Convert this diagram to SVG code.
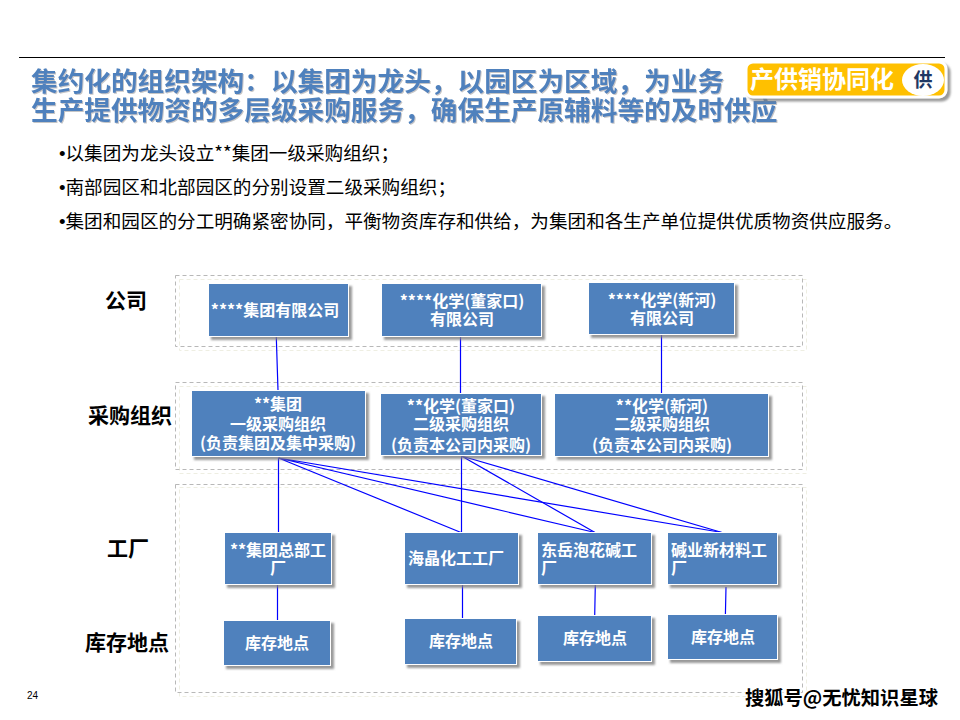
<svg xmlns="http://www.w3.org/2000/svg" width="960" height="720" viewBox="0 0 960 720">
<style>
text{font-family:"Noto Sans CJK SC","Liberation Sans",sans-serif}
.title{font-size:26.67px;font-weight:700;fill:#4f81bd;filter:url(#ts)}
.bul{font-size:18.6px;fill:#000}
.dot{font-family:"Liberation Sans",sans-serif}
.row{font-size:21px;font-weight:700;fill:#000;text-anchor:middle}
.n{fill:#4f81bd;stroke:#fff;stroke-width:1;filter:url(#sh)}
.t{font-size:16px;font-weight:700;fill:#fff;text-anchor:middle}
.l{font-size:16px;font-weight:700;fill:#fff}
.g1{fill:none;stroke:#b8b8b8;stroke-width:1;stroke-dasharray:4 3}
.g2{fill:none;stroke:#eeeee2;stroke-width:1;stroke-dasharray:4 3}
.c{stroke:#0000ff;stroke-width:1.2;fill:none}
</style>
<defs>
<filter id="sh" x="-10%" y="-10%" width="125%" height="130%"><feDropShadow dx="3" dy="3" stdDeviation="1.2" flood-color="#808080" flood-opacity="0.8"/></filter>
<filter id="ts" x="-2%" y="-10%" width="104%" height="125%"><feDropShadow dx="1" dy="1" stdDeviation="0.5" flood-color="#a0a0a0" flood-opacity="0.6"/></filter>
</defs>
<rect width="960" height="720" fill="#fff"/>
<line x1="19" y1="57.5" x2="945" y2="57.5" stroke="#000" stroke-width="1"/>
<text class="title" x="31" y="91">集约化的组织架构&#xFF1A;以集团为龙头&#xFF0C;以园区为区域&#xFF0C;为业务</text>
<text class="title" x="31" y="120">生产提供物资的多层级采购服务&#xFF0C;确保生产原辅料等的及时供应</text>
<g id="badge">
<rect x="746" y="62" width="200" height="35" rx="7" fill="#ffc000" stroke="#fff" stroke-width="3" filter="url(#sh)"/>
<text x="750" y="88" font-size="24" font-weight="700" fill="#fff">产供销协同化</text>
<ellipse cx="923" cy="80" rx="21" ry="16" fill="#fff"/>
<text x="923" y="87" font-size="19" font-weight="700" fill="#1f3864" text-anchor="middle">供</text>
</g>
<text class="bul" x="59" y="160"><tspan class="dot">•</tspan>以集团为龙头设立**集团一级采购组织&#xFF1B;</text>
<text class="bul" x="59" y="194"><tspan class="dot">•</tspan>南部园区和北部园区的分别设置二级采购组织&#xFF1B;</text>
<text class="bul" x="59" y="228"><tspan class="dot">•</tspan>集团和园区的分工明确紧密协同&#xFF0C;平衡物资库存和供给&#xFF0C;为集团和各生产单位提供优质物资供应服务。</text>
<g id="frames">
<rect class="g2" x="179.500" y="279.500" width="627" height="71"/>
<rect class="g1" x="175.500" y="275.500" width="627" height="71"/>
<rect class="g2" x="179.500" y="386.500" width="627" height="87"/>
<rect class="g1" x="175.500" y="382.500" width="627" height="87"/>
<rect class="g2" x="179.500" y="487.500" width="627" height="209"/>
<rect class="g1" x="175.500" y="484.500" width="627" height="208"/>
</g>
<text class="row" x="126" y="308">公司</text>
<text class="row" x="130" y="423">采购组织</text>
<text class="row" x="128" y="556">工厂</text>
<text class="row" x="127" y="650">库存地点</text>
<g id="connectors">
<path class="c" d="M276.300 337L278 390M460.500 337V394M661.500 335V394"/>
<path class="c" d="M278.500 458V533M278.500 458L461 532.500M278.500 458L595 532.500M278.500 458L722 532.500"/>
<path class="c" d="M461.500 456V533M461.500 456L595 532.500M461.500 456L722 532.500"/>
<path class="c" d="M277.500 585V621M462.500 585V619M595.300 585L594.700 616M726 587L725.400 615"/>
</g>
<g id="a1"><rect class="n" x="208.500" y="283.500" width="140" height="53"/><text class="t" x="275" y="316">****集团有限公司</text></g>
<g id="a2"><rect class="n" x="381.500" y="283.500" width="160" height="53"/><text class="t" x="462" y="307">****化学(董家口)</text><text class="t" x="462" y="325">有限公司</text></g>
<g id="a3"><rect class="n" x="588.500" y="282.500" width="146" height="52"/><text class="t" x="662" y="306">****化学(新河)</text><text class="t" x="662" y="324">有限公司</text></g>
<g id="b1"><rect class="n" x="191.500" y="390.500" width="174" height="66"/><text class="t" x="278" y="410">**集团</text><text class="t" x="278" y="430">一级采购组织</text><text class="t" x="278" y="449">(负责集团及集中采购)</text></g>
<g id="b2"><rect class="n" x="380.500" y="393.500" width="161" height="62"/><text class="t" x="461" y="412">**化学(董家口)</text><text class="t" x="461" y="430">二级采购组织</text><text class="t" x="461" y="451">(负责本公司内采购)</text></g>
<g id="b3"><rect class="n" x="554.500" y="393.500" width="214" height="63"/><text class="t" x="662" y="412">**化学(新河)</text><text class="t" x="662" y="430">二级采购组织</text><text class="t" x="662" y="451">(负责本公司内采购)</text></g>
<g id="c1"><rect class="n" x="224.500" y="532.500" width="107" height="52"/><text class="t" x="278" y="556">**集团总部工</text><text class="t" x="278" y="574">厂</text></g>
<g id="c2"><rect class="n" x="404.500" y="532.500" width="114" height="52"/><text class="l" x="408" y="564">海晶化工工厂</text></g>
<g id="c3"><rect class="n" x="537.500" y="532.500" width="114" height="52"/><text class="l" x="541" y="556">东岳泡花碱工</text><text class="l" x="541" y="574">厂</text></g>
<g id="c4"><rect class="n" x="667.500" y="532.500" width="110" height="52"/><text class="l" x="671" y="556">碱业新材料工</text><text class="l" x="671" y="574">厂</text></g>
<g id="d1"><rect class="n" x="223.500" y="620.500" width="107" height="45"/><text class="t" x="277" y="649">库存地点</text></g>
<g id="d2"><rect class="n" x="404.500" y="618.500" width="112" height="46"/><text class="t" x="461" y="647">库存地点</text></g>
<g id="d3"><rect class="n" x="537.500" y="615.500" width="114" height="46"/><text class="t" x="595" y="644">库存地点</text></g>
<g id="d4"><rect class="n" x="667.500" y="614.500" width="110" height="45"/><text class="t" x="723" y="643">库存地点</text></g>
<text x="27" y="699" font-size="10" style="font-family:'Liberation Sans',sans-serif" fill="#000">24</text>
<text x="745" y="705" font-size="19.3" font-weight="700" fill="#000" stroke="#fff" stroke-width="2.5" paint-order="stroke">搜狐号@无忧知识星球</text>
</svg>
